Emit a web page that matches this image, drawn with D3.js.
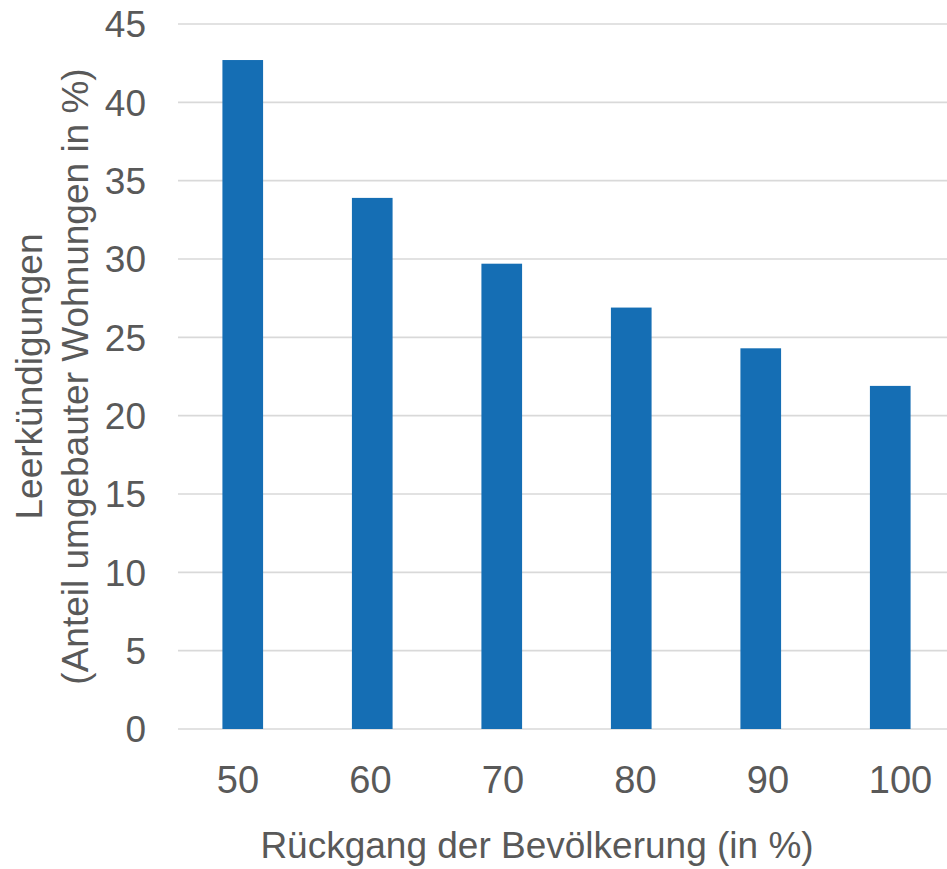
<!DOCTYPE html>
<html>
<head>
<meta charset="utf-8">
<script src="https://cdn.jsdelivr.net/npm/d3@7"></script>
<style>
  html, body { margin: 0; padding: 0; background: #ffffff; }
  svg { display: block; }
  text { font-family: "Liberation Sans", Arial, sans-serif; fill: #595959; }
</style>
</head>
<body>
<svg id="chart" width="947" height="869"></svg>
<script>
// Population decline (%) and share of converted flats terminated for vacancy (%)
const categories = ["50", "60", "70", "80", "90", "100"];
const values = [42.7, 33.9, 29.7, 26.9, 24.3, 21.9];
const yTicks = [0, 5, 10, 15, 20, 25, 30, 35, 40, 45];
const xTitle = "Rückgang der Bevölkerung (in %)";
const yTitleLines = ["Leerkündigungen", "(Anteil umgebauter Wohnungen in %)"];

const svg = d3.select("#chart");
const plot = { left: 178, right: 955, top: 24, bottom: 729 };

const x = d3.scaleBand()
  .domain(categories)
  .range([plot.left, plot.right])
  .paddingInner(0.686)
  .paddingOuter(0.343);

// category label positions along the axis
const xLabel = d3.scalePoint()
  .domain(categories)
  .range([238, 900.5]);

const y = d3.scaleLinear()
  .domain([0, 45])
  .range([plot.bottom, plot.top]);

// horizontal gridlines
svg.append("g")
  .selectAll("line")
  .data(yTicks)
  .join("line")
  .attr("x1", plot.left)
  .attr("x2", plot.right)
  .attr("y1", d => y(d))
  .attr("y2", d => y(d))
  .attr("stroke", "#d9d9d9")
  .attr("stroke-width", 1.6);

// bars
svg.append("g")
  .selectAll("rect")
  .data(values)
  .join("rect")
  .attr("x", (d, i) => x(categories[i]))
  .attr("width", x.bandwidth())
  .attr("y", d => y(d))
  .attr("height", d => y(0) - y(d))
  .attr("fill", "#156eb4");

// y tick labels
svg.append("g")
  .selectAll("text")
  .data(yTicks)
  .join("text")
  .attr("x", 146)
  .attr("y", d => y(d))
  .attr("dy", "0.36em")
  .attr("text-anchor", "end")
  .attr("font-size", 37)
  .text(d => d);

// x tick labels
svg.append("g")
  .selectAll("text")
  .data(categories)
  .join("text")
  .attr("x", d => xLabel(d))
  .attr("y", 793)
  .attr("text-anchor", "middle")
  .attr("font-size", 38)
  .text(d => d);

// x axis title
svg.append("text")
  .attr("x", 537)
  .attr("y", 858)
  .attr("text-anchor", "middle")
  .attr("font-size", 37)
  .text(xTitle);

// y axis title, two rotated lines
const yTitle = svg.append("text")
  .attr("transform", `translate(0, ${(plot.top + plot.bottom) / 2}) rotate(-90)`)
  .attr("text-anchor", "middle")
  .attr("font-size", 37);
yTitle.selectAll("tspan")
  .data(yTitleLines)
  .join("tspan")
  .attr("x", 0)
  .attr("y", (d, i) => 42 + i * 46)
  .text(d => d);
</script>
</body>
</html>
